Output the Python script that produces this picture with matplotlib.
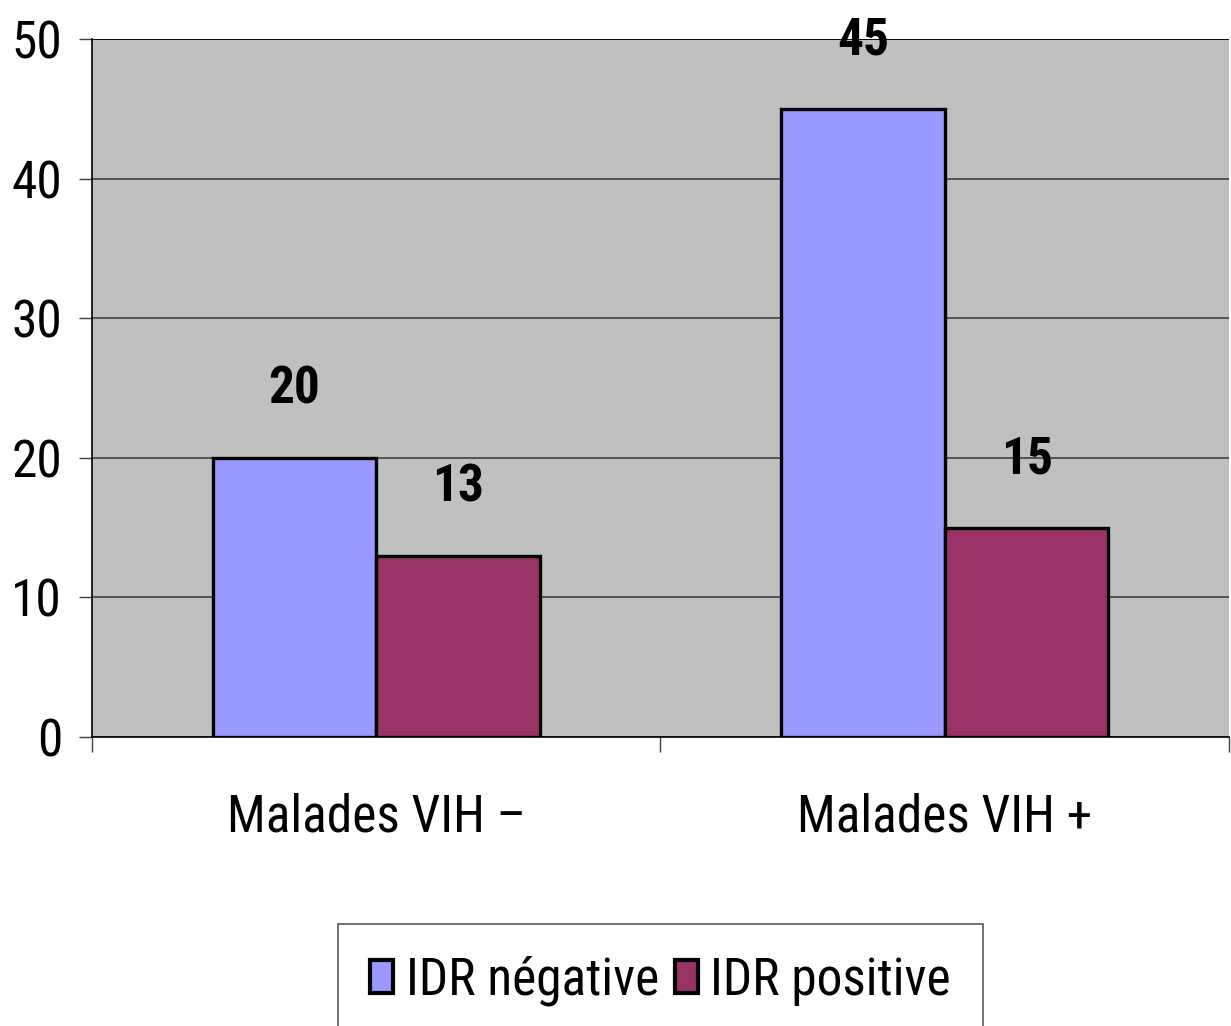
import numpy as np
import matplotlib.pyplot as plt

plt.rcParams['font.family'] = ['Liberation Sans Narrow', 'Roboto Condensed', 'Liberation Sans', 'DejaVu Sans']

groups = ["Malades VIH \u2013", "Malades VIH +"]
series = ["IDR n\u00e9gative", "IDR positive"]
idr_neg = [20, 45]
idr_pos = [13, 15]
colors = ["#9999FF", "#993366"]

fig = plt.figure(figsize=(12.31, 10.26), dpi=100)
ax = fig.add_axes([92 / 1231, 289 / 1026, 1137 / 1231, 698 / 1026])
ax.set_facecolor("#C0C0C0")

x = np.arange(len(groups))
w = 0.288
for i, vals in enumerate([idr_neg, idr_pos]):
    b = ax.bar(x + (i - 0.5) * w, vals, w, color=colors[i],
               edgecolor="black", linewidth=2.4, label=series[i], zorder=3)
    for rect, v in zip(b, vals):
        ax.annotate(str(v), (rect.get_x() + rect.get_width() / 2, v),
                    xytext=(0, 49), textcoords="offset points",
                    ha="center", va="center", fontsize=37,
                    fontweight="bold", zorder=4, annotation_clip=False)

ax.set_ylim(0, 50)
ax.set_xlim(-0.5, 1.5)
ax.set_yticks(range(0, 51, 10))
ax.yaxis.grid(True, color="#404040", linewidth=1.2, zorder=1)
ax.set_axisbelow(True)

ax.set_xticks(x)
ax.set_xticklabels(groups, fontsize=37)
ax.set_xticks([-0.5, 0.5, 1.5], minor=True)
ax.tick_params(axis="x", which="major", length=0, pad=40)
ax.tick_params(axis="x", which="minor", length=11, width=1, color="#404040")
ax.tick_params(axis="y", length=9.5, width=1, color="#404040", labelsize=37, pad=12)

for s in ["top", "right"]:
    ax.spines[s].set_visible(False)
ax.spines["left"].set_linewidth(1.2)
ax.spines["bottom"].set_linewidth(1.2)
ax.axhline(50, color="black", linewidth=1.2, zorder=2)

# legend box runs off the bottom edge of the figure
leg = fig.legend(loc="upper center", bbox_to_anchor=(660.5 / 1231, 1 - 924 / 1026),
                 ncol=2, fontsize=37, frameon=True, fancybox=False,
                 handlelength=0.45, handleheight=0.6, handletextpad=0.25,
                 columnspacing=0.3, borderpad=0.62, borderaxespad=0)
leg.get_frame().set_edgecolor("#303030")
leg.get_frame().set_linewidth(1.2)
for h in leg.legend_handles:
    h.set_linewidth(3)

fig.savefig("out.png", dpi=100)
